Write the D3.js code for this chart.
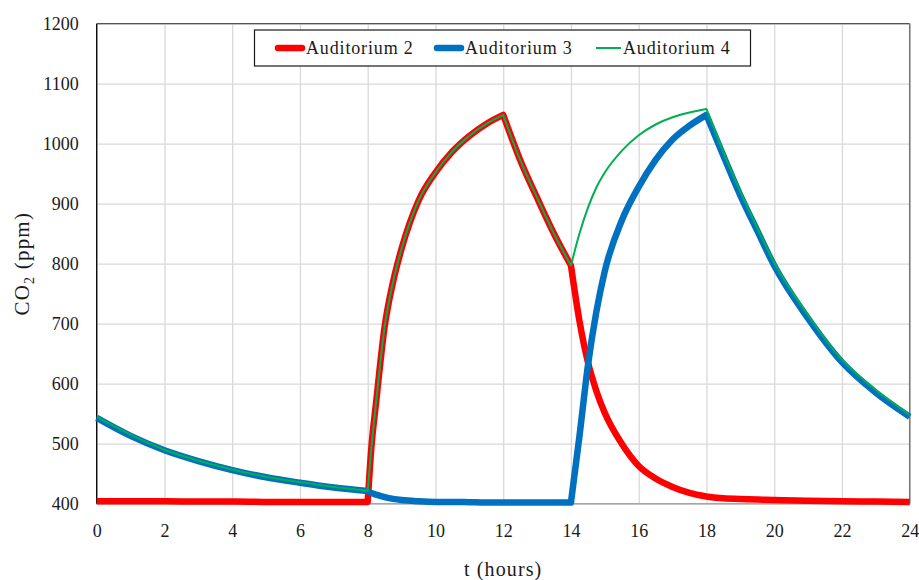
<!DOCTYPE html>
<html>
<head>
<meta charset="utf-8">
<script src="https://cdn.jsdelivr.net/npm/d3@7"></script>
<style>
  html, body { margin: 0; padding: 0; background: #ffffff; }
  svg { display: block; }
  text { font-family: "Liberation Serif", "DejaVu Serif", serif; fill: #1a1a1a; }
</style>
</head>
<body>
<svg id="chart" width="919" height="580"></svg>
<script>
// ---- data ----
const hours = [0, 1, 2, 3, 4, 5, 6, 7, 8, 8.1, 8.25, 8.5, 8.75, 9, 9.5, 10, 10.5, 11, 11.5, 12,
  12.5, 13, 13.5, 14, 14.25, 14.5, 14.75, 15, 15.5, 16, 16.5, 17, 17.5, 18,
  18.5, 19, 19.5, 20, 21, 22, 23, 24];
const auditorium2 = [404, 404, 404, 403.5, 403.5, 403, 403, 403, 403, 488, 570, 695, 770, 825, 905, 952, 987, 1013, 1033, 1048,
  973, 910, 850, 797, 705, 636, 588, 551, 500, 463, 442, 428, 418, 412,
  409, 408, 407, 406, 405, 404, 403.5, 403];
const auditorium3 = [543, 513, 489, 471, 456, 444, 435, 427, 421, 418, 415, 411, 408, 406, 404, 403, 403, 402.5, 402, 402,
  402, 402, 402, 402, 512, 630, 720, 788, 872, 928, 973, 1007, 1030, 1048,
  980, 914, 855, 797, 709, 636, 585, 545];
const auditorium4 = [545, 515, 490, 472, 457, 445, 436, 428, 422, 488, 570, 695, 770, 825, 905, 952, 987, 1013, 1033, 1048,
  973, 910, 850, 797, 850, 893, 927, 952, 988, 1014, 1032, 1044, 1052, 1058,
  986, 920, 860, 802, 714, 640, 590, 548];
const seriesNames = ["Auditorium 2", "Auditorium 3", "Auditorium 4"];
const breakHours = [8, 12, 14, 18];   // times where the curves change regime
const xTicks = [0, 2, 4, 6, 8, 10, 12, 14, 16, 18, 20, 22, 24];
const yTicks = [400, 500, 600, 700, 800, 900, 1000, 1100, 1200];

// ---- layout ----
const mLeft = 96.7, mTop = 23.7, plotW = 813, plotH = 480;
const FONT = "\"Liberation Serif\", \"DejaVu Serif\", serif";
const svg = d3.select("#chart");
const x = d3.scaleLinear().domain([0, 24]).range([mLeft, mLeft + plotW]);
const y = d3.scaleLinear().domain([400, 1200]).range([mTop + plotH, mTop]);

// gridlines via axes
const gx = svg.append("g").attr("transform", `translate(0,${mTop + plotH})`)
  .call(d3.axisBottom(x).tickValues(xTicks).tickSize(-plotH).tickPadding(20.5).tickFormat(d3.format("d")));
const gy = svg.append("g").attr("transform", `translate(${mLeft},0)`)
  .call(d3.axisLeft(y).tickValues(yTicks).tickSize(-plotW).tickPadding(18).tickFormat(d3.format("d")));
[gx, gy].forEach(g => {
  g.select(".domain").remove();
  g.selectAll(".tick line").attr("stroke", "#d9d9d9").attr("stroke-width", 1.3);
  g.selectAll(".tick text").attr("font-size", 18).attr("fill", "#1a1a1a").attr("font-family", FONT);
});

// plot frame
svg.append("line").attr("x1", mLeft).attr("x2", mLeft + plotW).attr("y1", mTop).attr("y2", mTop)
  .attr("stroke", "#555555").attr("stroke-width", 1.3);
svg.append("line").attr("x1", mLeft + plotW).attr("x2", mLeft + plotW).attr("y1", mTop).attr("y2", mTop + plotH)
  .attr("stroke", "#7a7a7a").attr("stroke-width", 1.5);
svg.append("line").attr("x1", mLeft).attr("x2", mLeft + plotW).attr("y1", mTop + plotH).attr("y2", mTop + plotH)
  .attr("stroke", "#a6a6a6").attr("stroke-width", 1.5);
svg.append("line").attr("x1", mLeft).attr("x2", mLeft).attr("y1", mTop).attr("y2", mTop + plotH)
  .attr("stroke", "#000000").attr("stroke-width", 1.3);

// series: smooth within each regime, sharp corners at the regime changes
const series = [
  { name: seriesNames[0], values: auditorium2, color: "#ff0000", width: 6.5 },
  { name: seriesNames[1], values: auditorium3, color: "#0070c0", width: 6.5 },
  { name: seriesNames[2], values: auditorium4, color: "#00b050", width: 2 }
];
const segLine = d3.line().x(d => x(d[0])).y(d => y(d[1])).curve(d3.curveMonotoneX);
function buildPath(values) {
  const pts = hours.map((h, i) => [h, values[i]]);
  const edges = [0, ...breakHours, 24];
  let d = "";
  for (let k = 0; k < edges.length - 1; k++) {
    const seg = pts.filter(p => p[0] >= edges[k] && p[0] <= edges[k + 1]);
    let s = segLine(seg);
    if (k > 0) s = "L" + s.slice(1);
    d += s;
  }
  return d;
}
series.forEach(s => {
  svg.append("path")
    .attr("d", buildPath(s.values))
    .attr("fill", "none")
    .attr("stroke", s.color)
    .attr("stroke-width", s.width)
    .attr("stroke-linejoin", "round")
    .attr("stroke-linecap", "butt");
});

// axis titles
svg.append("text").attr("x", mLeft + plotW / 2).attr("y", 576)
  .attr("text-anchor", "middle").attr("font-size", 20).attr("letter-spacing", 1.1)
  .text("t (hours)");
const yt = svg.append("text").attr("transform", `translate(29,${mTop + plotH / 2}) rotate(-90)`)
  .attr("text-anchor", "middle").attr("font-size", 21).attr("letter-spacing", 1.2);
yt.append("tspan").text("CO");
yt.append("tspan").attr("font-size", 14).attr("dy", 5).text("2");
yt.append("tspan").attr("dy", -5).text(" (ppm)");

// legend
const legend = svg.append("g");
legend.append("rect").attr("x", 254.5).attr("y", 30).attr("width", 496).attr("height", 36)
  .attr("fill", "#ffffff").attr("stroke", "#1a1a1a").attr("stroke-width", 1.2);
const legendX = [278, 437, 596];
const legendLen = [24, 24, 25];
series.forEach((s, i) => {
  const lx = legendX[i];
  legend.append("line").attr("x1", lx).attr("x2", lx + legendLen[i]).attr("y1", 48).attr("y2", 48)
    .attr("stroke", s.color).attr("stroke-width", s.width)
    .attr("stroke-linecap", s.width > 3 ? "round" : "butt");
  legend.append("text").attr("x", i === 2 ? 623 : lx + 28).attr("y", 53.5)
    .attr("font-size", 18).attr("letter-spacing", 0.85).text(s.name);
});
</script>
</body>
</html>
